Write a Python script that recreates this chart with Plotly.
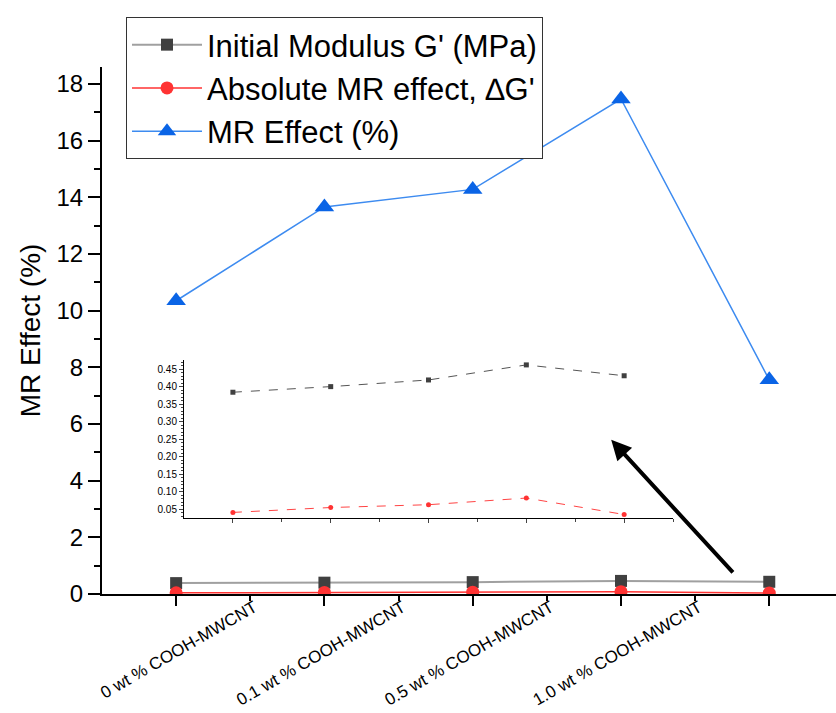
import plotly.graph_objects as go

x_pos = [1, 2, 3, 4, 5]
label_pos = [1.5, 2.5, 3.5, 4.5]
labels = ["0 wt % COOH-MWCNT", "0.1 wt % COOH-MWCNT", "0.5 wt % COOH-MWCNT", "1.0 wt % COOH-MWCNT"]

modulus = [0.384, 0.400, 0.419, 0.462, 0.431]
abs_mr = [0.041, 0.055, 0.063, 0.082, 0.035]
mr_pct = [10.35, 13.66, 14.28, 17.47, 7.56]

FONT = "Liberation Sans, Arial, sans-serif"

fig = go.Figure()

fig.add_trace(go.Scatter(
    x=x_pos, y=modulus, mode="lines+markers", name="Initial Modulus G' (MPa)",
    line=dict(color="#a0a0a0", width=2),
    marker=dict(symbol="square", size=12, color="#404040"),
))
fig.add_trace(go.Scatter(
    x=x_pos, y=abs_mr, mode="lines+markers", name="Absolute MR effect, \u2206G'",
    line=dict(color="#ff3333", width=1.5),
    marker=dict(symbol="circle", size=13, color="#ff3333"),
))
fig.add_trace(go.Scatter(
    x=x_pos, y=mr_pct, mode="lines+markers", name="MR Effect (%)",
    line=dict(color="#3d8bf0", width=1.5),
    marker=dict(symbol="triangle-up", size=17, color="#0a64e6"),
))

# inset
fig.add_trace(go.Scatter(
    x=x_pos, y=modulus, mode="lines+markers", showlegend=False,
    line=dict(color="#555555", width=1, dash="dash"),
    marker=dict(symbol="square", size=5, color="#404040"),
    xaxis="x2", yaxis="y2",
))
fig.add_trace(go.Scatter(
    x=x_pos, y=abs_mr, mode="lines+markers", showlegend=False,
    line=dict(color="#ff4444", width=1, dash="dash"),
    marker=dict(symbol="circle", size=5, color="#ff3333"),
    xaxis="x2", yaxis="y2",
))

fig.add_annotation(
    x=3.934, y=5.44, ax=4.764, ay=0.707, xref="x", yref="y", axref="x", ayref="y",
    showarrow=True, arrowhead=2, arrowsize=1, arrowwidth=4, arrowcolor="black", text="",
)

fig.update_layout(
    width=836, height=713,
    margin=dict(l=102, r=0, t=10, b=119, autoexpand=False),
    paper_bgcolor="white", plot_bgcolor="white",
    font=dict(family=FONT, color="black"),
    showlegend=True,
    legend=dict(
        x=0.0327, y=0.988, xanchor="left", yanchor="top",
        bgcolor="white", bordercolor="#333333", borderwidth=1,
        font=dict(size=31, family=FONT), itemwidth=70,
        tracegroupgap=0,
    ),
    xaxis=dict(
        domain=[0, 1], range=[0.5, 5.45], showgrid=False, zeroline=False, automargin=False,
        showline=True, linecolor="black", linewidth=2,
        tickmode="array", tickvals=label_pos, ticktext=labels,
        ticks="outside", ticklen=5, tickwidth=2, tickcolor="black",
        tickangle=-30, tickfont=dict(size=17, family=FONT), ticklabelstandoff=-10, ticklabelshift=4,
        minor=dict(tickmode="array", tickvals=x_pos, ticks="outside", ticklen=10, tickwidth=2, tickcolor="black"),
    ),
    yaxis=dict(
        domain=[0, 0.9024], range=[0, 18.6], showgrid=False, zeroline=False, automargin=False,
        showline=True, linecolor="black", linewidth=2,
        dtick=2, tick0=0, ticks="outside", ticklen=12, tickwidth=2, tickcolor="black",
        tickfont=dict(size=24, family=FONT),
        minor=dict(dtick=1, ticks="outside", ticklen=6, tickwidth=2, tickcolor="black"),
        title=dict(text="MR Effect (%)", font=dict(size=28, family=FONT), standoff=8),
    ),
    xaxis2=dict(
        domain=[0.1117, 0.778], anchor="y2", range=[0.5, 5.5], automargin=False,
        showgrid=False, zeroline=False, showline=True, linecolor="black", linewidth=1,
        tickvals=x_pos, ticktext=["", "", "", "", ""], ticks="outside", ticklen=4, tickwidth=1,
        minor=dict(tickmode="array", tickvals=[1.5, 2.5, 3.5, 4.5, 5.5], ticks="outside", ticklen=3, tickwidth=1),
    ),
    yaxis2=dict(
        domain=[0.1301, 0.4007], anchor="x2", range=[0.025, 0.476], automargin=False,
        showgrid=False, zeroline=False, showline=True, linecolor="black", linewidth=1,
        dtick=0.05, tick0=0.05, tickformat=".2f", ticks="outside", ticklen=4, tickwidth=1,
        tickfont=dict(size=10, family=FONT),
        minor=dict(dtick=0.01, ticks="outside", ticklen=2, tickwidth=1),
    ),
)

fig.write_html(
    "out.html",
    config={"displayModeBar": False},
    post_script="document.body.style.margin='0px';document.body.style.overflow='hidden';",
)
